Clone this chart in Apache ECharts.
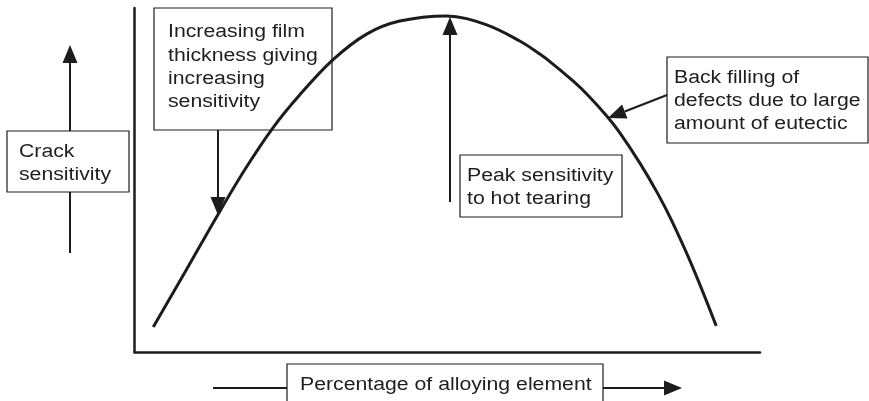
<!DOCTYPE html>
<html>
<head>
<meta charset="utf-8">
<script src="https://cdn.jsdelivr.net/npm/echarts@6/dist/echarts.min.js"></script>
<style>
html,body{margin:0;padding:0;background:#fff;}
#chart{width:869px;height:401px;}
</style>
</head>
<body>
<div id="chart"></div>
<script>
// Schematic curve: percentage of alloying element (x, 0-100 arbitrary) vs crack sensitivity (y, 0-100 arbitrary)
const alloyPct = [3.0, 8.2, 13.1, 17.6, 22.1, 26.4, 31.7, 37.1, 42.4, 49.9, 56.3, 61.6, 64.8, 66.9, 70.1, 72.3, 75.5, 77.6, 80.8, 83.7, 85.9, 89.3, 93.0];
const crackSens = [7.3, 23.6, 39.2, 52.9, 65.1, 74.7, 84.9, 92.4, 96.2, 97.7, 95.1, 90.4, 86.6, 83.7, 78.8, 75.0, 68.6, 63.7, 54.9, 45.9, 38.1, 24.4, 7.6];

const yLabelLines = ['Crack', 'sensitivity'];
const xLabelText = 'Percentage of alloying element';
const note1Lines = ['Increasing film', 'thickness giving', 'increasing', 'sensitivity'];
const note2Lines = ['Peak sensitivity', 'to hot tearing'];
const note3Lines = ['Back filling of', 'defects due to large', 'amount of eutectic'];

const INK = '#1c1c1c';
const TXT = '#1e1e1e';
const FONT = '18px "Liberation Sans", Arial, sans-serif';
const LH = 23.3;
const SX = 1.18;

function arrow(x1, y1, x2, y2, lw) {
  const len = 18, hw = 7.5;
  const dx = x2 - x1, dy = y2 - y1, d = Math.hypot(dx, dy);
  const ux = dx / d, uy = dy / d;
  const bx = x2 - ux * len, by = y2 - uy * len;
  const px = -uy, py = ux;
  return [
    {type: 'line', silent: true, z: 10, shape: {x1: x1, y1: y1, x2: bx, y2: by}, style: {stroke: INK, lineWidth: lw || 2}},
    {type: 'polygon', silent: true, z: 10, shape: {points: [[x2, y2], [bx + px * hw, by + py * hw], [bx - px * hw, by - py * hw]]}, style: {fill: INK}}
  ];
}
function seg(x1, y1, x2, y2, lw) {
  return {type: 'line', silent: true, z: 10, shape: {x1: x1, y1: y1, x2: x2, y2: y2}, style: {stroke: INK, lineWidth: lw || 2}};
}
function box(x, y, w, h) {
  return {type: 'rect', silent: true, z: 9, shape: {x: x, y: y, width: w, height: h}, style: {fill: 'none', stroke: INK, lineWidth: 1.2}};
}
function label(lines, x, baseline1) {
  return {type: 'text', silent: true, z: 11, x: x, y: baseline1 - 6 - LH / 2, scaleX: SX,
    style: {text: lines.join('\n'), font: FONT, fill: TXT, lineHeight: LH, verticalAlign: 'top', align: 'left'}};
}

const graphics = [].concat(
  // y-axis label with arrow
  arrow(70, 131, 70, 45, 2),
  [seg(70, 192, 70, 253, 2), box(7, 131, 122, 61), label(yLabelLines, 19, 158)],
  // note 1
  [box(154, 8, 178, 122), label(note1Lines, 168, 38.5)],
  arrow(218, 130, 218, 215, 2),
  // note 2
  [box(460, 155, 162, 62), label(note2Lines, 467, 181.7)],
  arrow(450, 202, 450, 17, 2),
  // note 3
  [box(667, 57, 201, 86), label(note3Lines, 674, 83.8)],
  arrow(667, 95, 608, 118, 2.2),
  // x-axis label with arrow
  [seg(213, 388, 287, 388, 2), box(287, 364, 316, 50), label([xLabelText], 300, 391)],
  arrow(603, 388, 682, 388, 2)
);

const chart = echarts.init(document.getElementById('chart'), null, {renderer: 'canvas'});
chart.setOption({
  backgroundColor: '#ffffff',
  animation: false,
  grid: {left: 134.5, right: 109, top: 8, bottom: 49, containLabel: false},
  xAxis: {
    type: 'value', min: 0, max: 100,
    axisLine: {show: true, onZero: false, lineStyle: {color: INK, width: 2.5}},
    axisTick: {show: false}, axisLabel: {show: false}, splitLine: {show: false}
  },
  yAxis: {
    type: 'value', min: 0, max: 100,
    axisLine: {show: true, onZero: false, lineStyle: {color: INK, width: 2.5}},
    axisTick: {show: false}, axisLabel: {show: false}, splitLine: {show: false}
  },
  series: [{
    type: 'line',
    data: alloyPct.map((x, i) => [x, crackSens[i]]),
    smooth: 0.35,
    showSymbol: false,
    lineStyle: {color: INK, width: 3},
    z: 5
  }],
  graphic: graphics
});
</script>
</body>
</html>
